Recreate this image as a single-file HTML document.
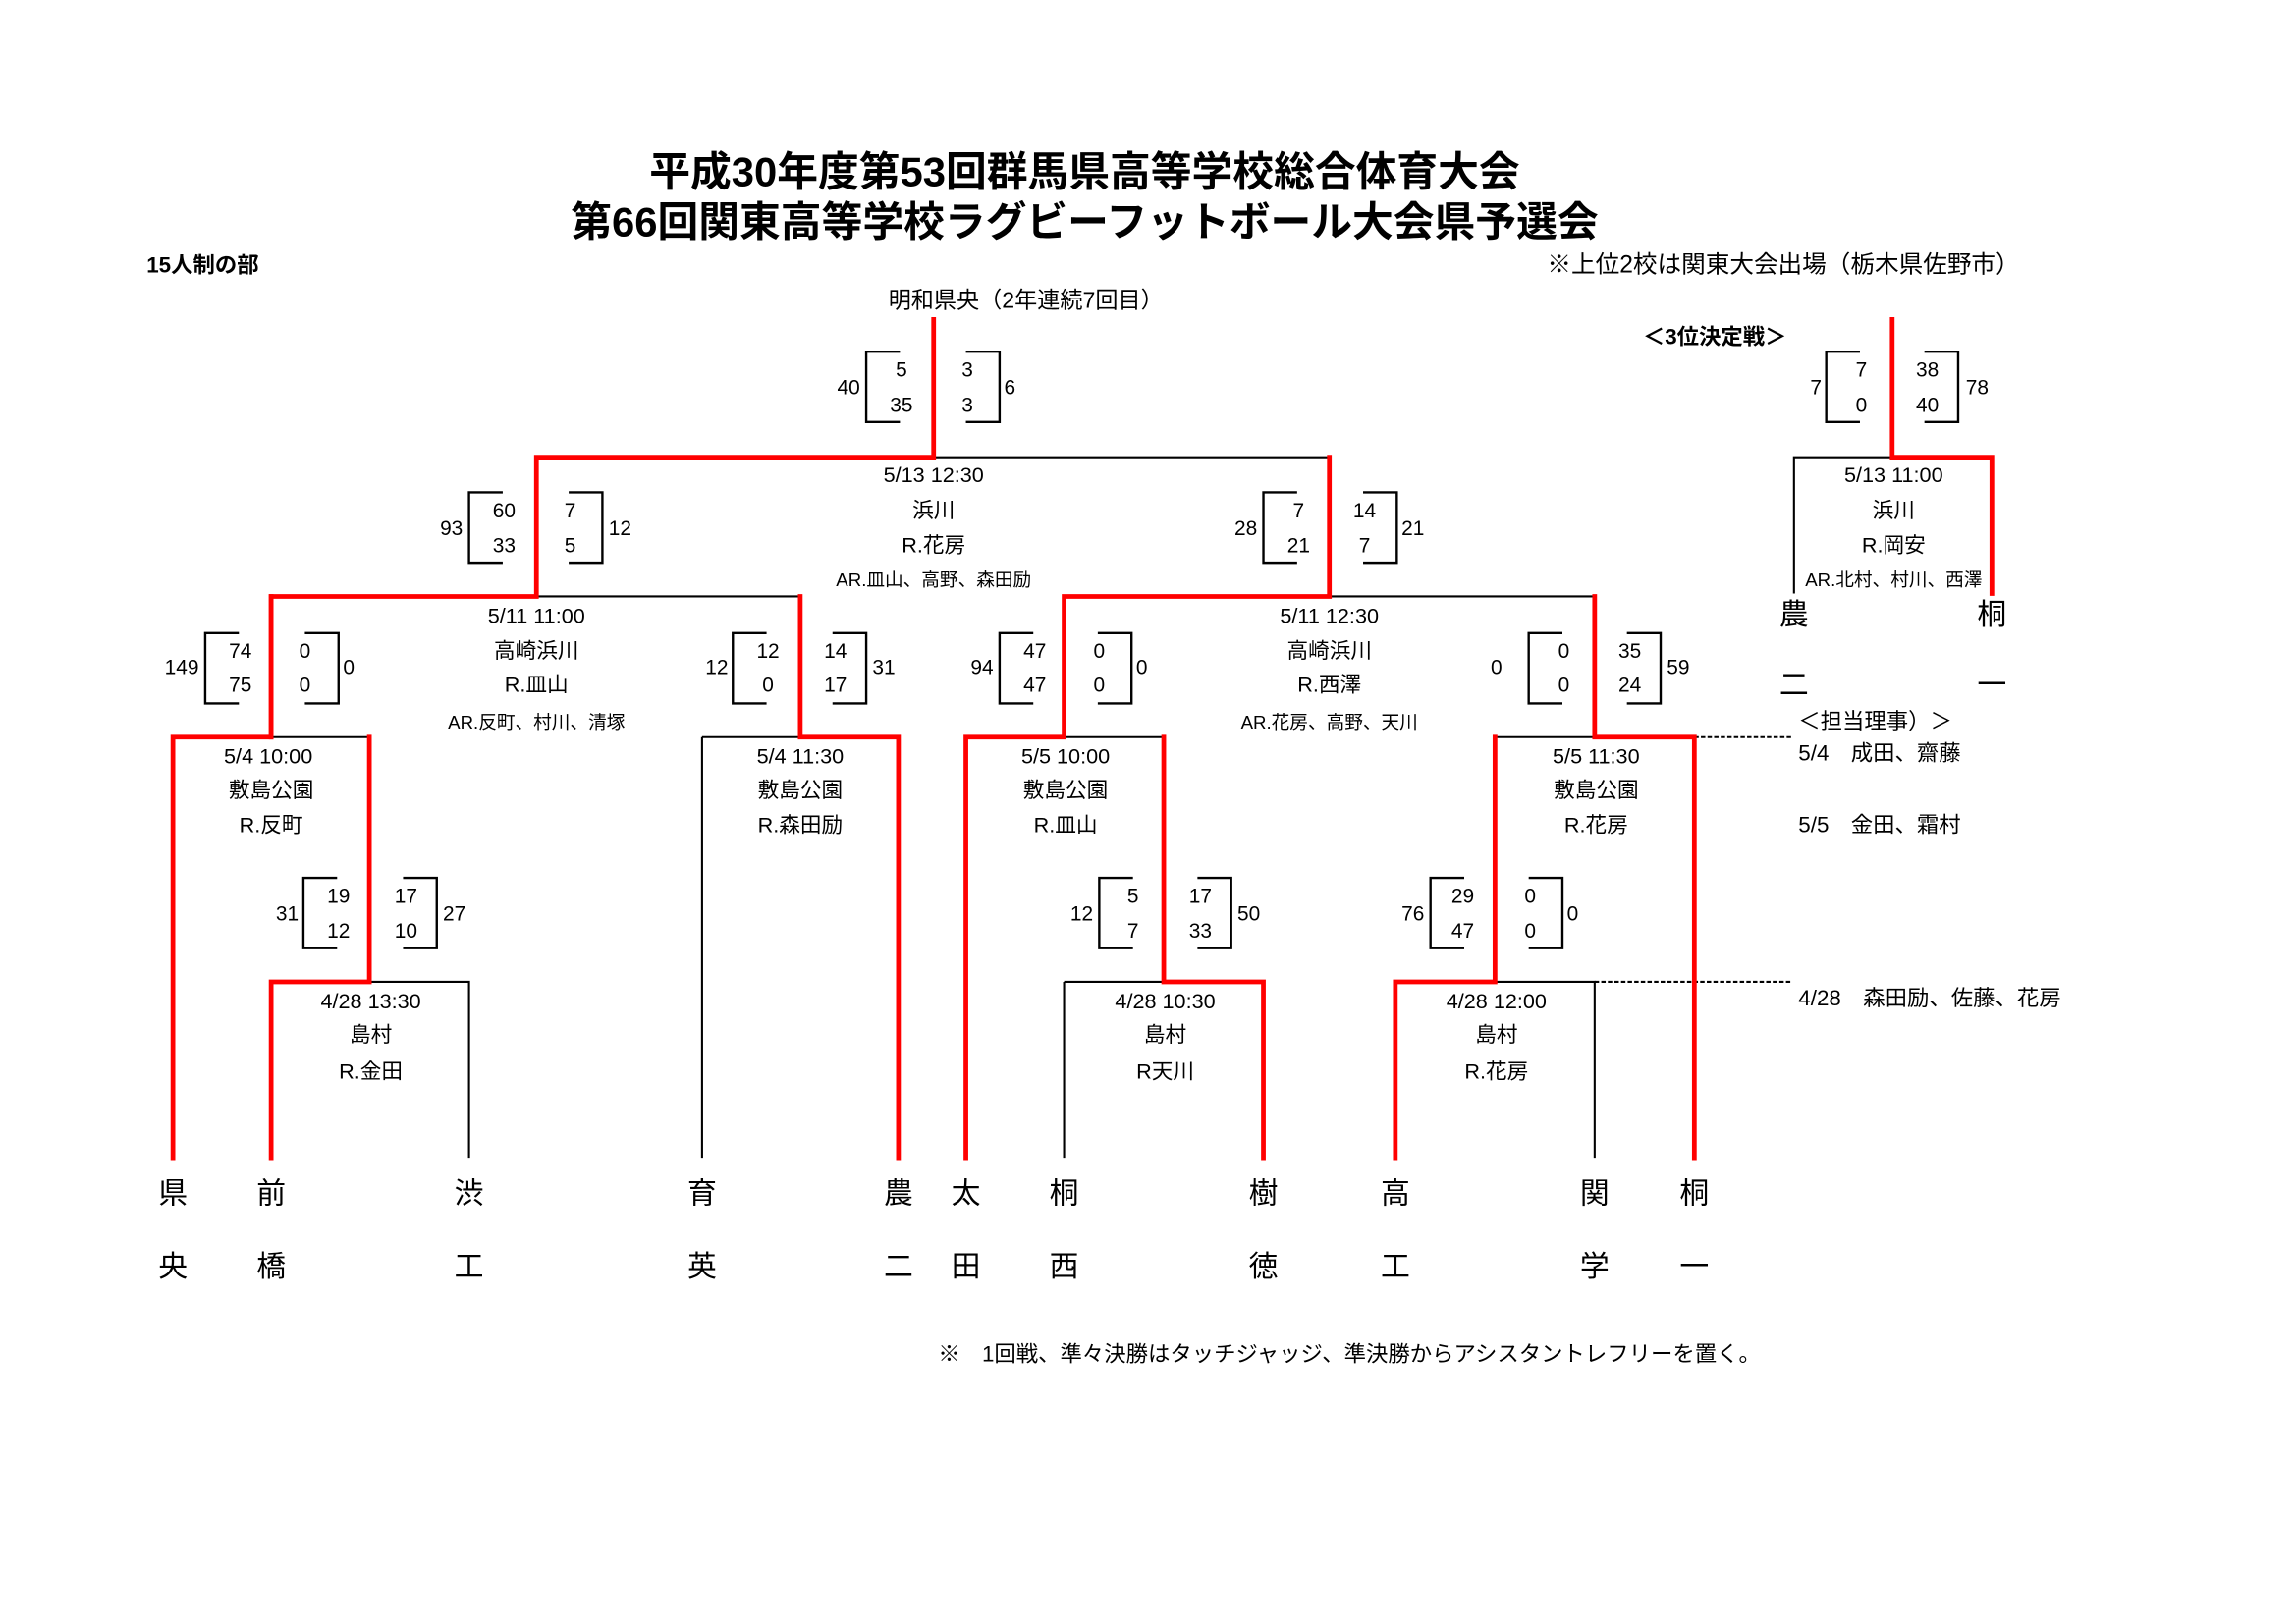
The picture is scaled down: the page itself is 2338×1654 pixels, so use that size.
<!DOCTYPE html>
<html><head><meta charset="utf-8"><style>
html,body{margin:0;padding:0;background:#fff;}
svg{display:block;}
text{font-family:"Liberation Sans","Noto Sans CJK JP",sans-serif;fill:#000;}
.t{font-size:14.5px;text-anchor:middle;}
.s{font-size:12.5px;text-anchor:middle;}
.n{font-size:14px;text-anchor:middle;}
.tm{font-size:20px;text-anchor:middle;}
.r{stroke:#f00;stroke-width:3.2;fill:none;stroke-linecap:square;}
.k{stroke:#000;stroke-width:1.4;fill:none;}
.b{stroke:#000;stroke-width:1.6;fill:none;}
</style></head><body>
<svg width="2338" height="1654" viewBox="0 0 1566.5 1108.2" xmlns="http://www.w3.org/2000/svg">
<rect width="1566.5" height="1108.2" fill="#fff"/>
<!-- titles -->
<text x="740" y="127" style="font-size:28px;font-weight:bold;text-anchor:middle">平成30年度第53回群馬県高等学校総合体育大会</text>
<text x="740" y="161" style="font-size:28px;font-weight:bold;text-anchor:middle">第66回関東高等学校ラグビーフットボール大会県予選会</text>
<text x="100" y="186" style="font-size:15px;font-weight:bold">15人制の部</text>
<text x="1378" y="186" style="font-size:16.5px;text-anchor:end">※上位2校は関東大会出場（栃木県佐野市）</text>
<text x="700" y="210" style="font-size:15.5px;text-anchor:middle">明和県央（2年連続7回目）</text>
<text x="1170" y="235" style="font-size:15px;font-weight:bold;text-anchor:middle">＜3位決定戦＞</text>

<!-- black lines -->
<g class="k">
<path d="M637 312H907"/>
<path d="M366 407H546"/>
<path d="M907 407H1088"/>
<path d="M185 503H252"/>
<path d="M479 503H546 M479 503V790"/>
<path d="M726 503H794"/>
<path d="M1020 503H1088"/>
<path d="M252 670H320V790"/>
<path d="M726 670H794 M726 670V790"/>
<path d="M1020 670H1088V790"/>
<path d="M1291 312H1224V405"/>
<path d="M1156 503H1222 M1088 670H1222" stroke-dasharray="3,1.5"/>
</g>
<!-- red lines -->
<g class="r">
<path d="M637 218V312H366V407H185V503H118V790"/>
<path d="M185 407V503"/>
<path d="M546 407V503H613V790"/>
<path d="M252 503V670H185V790"/>
<path d="M907 312V407H726V503H659V790"/>
<path d="M1088 407V503H1156V790"/>
<path d="M794 503V670H862V790"/>
<path d="M1020 503V670H952V790"/>
<path d="M1291 218V312H1359V405"/>
</g>

<!-- score boxes -->
<g class="b">
<path d="M614 240H591V288H614 M659 240H682V288H659"/>
<path d="M343 336H320V384H343 M388 336H411V384H388"/>
<path d="M885 336H862V384H885 M930 336H953V384H930"/>
<path d="M163 432H140V480H163 M208 432H231V480H208"/>
<path d="M523 432H500V480H523 M568 432H591V480H568"/>
<path d="M705 432H682V480H705 M749 432H772V480H749"/>
<path d="M1066 432H1043V480H1066 M1110 432H1133V480H1110"/>
<path d="M230 599H207V647H230 M275 599H298V647H275"/>
<path d="M773 599H750V647H773 M817 599H840V647H817"/>
<path d="M999 599H976V647H999 M1043 599H1066V647H1043"/>
<path d="M1269 240H1246V288H1269 M1313 240H1336V288H1313"/>
</g>
<g class="n">
<text x="615" y="257">5</text><text x="615" y="281">35</text><text x="579" y="269">40</text>
<text x="660" y="257">3</text><text x="660" y="281">3</text><text x="689" y="269">6</text>
<text x="344" y="353">60</text><text x="344" y="377">33</text><text x="308" y="365">93</text>
<text x="389" y="353">7</text><text x="389" y="377">5</text><text x="423" y="365">12</text>
<text x="886" y="353">7</text><text x="886" y="377">21</text><text x="850" y="365">28</text>
<text x="931" y="353">14</text><text x="931" y="377">7</text><text x="964" y="365">21</text>
<text x="164" y="449">74</text><text x="164" y="472">75</text><text x="124" y="460">149</text>
<text x="208" y="449">0</text><text x="208" y="472">0</text><text x="238" y="460">0</text>
<text x="524" y="449">12</text><text x="524" y="472">0</text><text x="489" y="460">12</text>
<text x="570" y="449">14</text><text x="570" y="472">17</text><text x="603" y="460">31</text>
<text x="706" y="449">47</text><text x="706" y="472">47</text><text x="670" y="460">94</text>
<text x="750" y="449">0</text><text x="750" y="472">0</text><text x="779" y="460">0</text>
<text x="1067" y="449">0</text><text x="1067" y="472">0</text><text x="1021" y="460">0</text>
<text x="1112" y="449">35</text><text x="1112" y="472">24</text><text x="1145" y="460">59</text>
<text x="231" y="616">19</text><text x="231" y="640">12</text><text x="196" y="628">31</text>
<text x="277" y="616">17</text><text x="277" y="640">10</text><text x="310" y="628">27</text>
<text x="773" y="616">5</text><text x="773" y="640">7</text><text x="738" y="628">12</text>
<text x="819" y="616">17</text><text x="819" y="640">33</text><text x="852" y="628">50</text>
<text x="998" y="616">29</text><text x="998" y="640">47</text><text x="964" y="628">76</text>
<text x="1044" y="616">0</text><text x="1044" y="640">0</text><text x="1073" y="628">0</text>
<text x="1270" y="257">7</text><text x="1270" y="281">0</text><text x="1239" y="269">7</text>
<text x="1315" y="257">38</text><text x="1315" y="281">40</text><text x="1349" y="269">78</text>
</g>

<!-- match info -->
<g class="t">
<text x="637" y="329">5/13 12:30</text><text x="637" y="353">浜川</text><text x="637" y="377">R.花房</text>
<text x="366" y="425">5/11 11:00</text><text x="366" y="449">高崎浜川</text><text x="366" y="472">R.皿山</text>
<text x="907" y="425">5/11 12:30</text><text x="907" y="449">高崎浜川</text><text x="907" y="472">R.西澤</text>
<text x="183" y="521">5/4 10:00</text><text x="185" y="544">敷島公園</text><text x="185" y="568">R.反町</text>
<text x="546" y="521">5/4 11:30</text><text x="546" y="544">敷島公園</text><text x="546" y="568">R.森田励</text>
<text x="727" y="521">5/5 10:00</text><text x="727" y="544">敷島公園</text><text x="727" y="568">R.皿山</text>
<text x="1089" y="521">5/5 11:30</text><text x="1089" y="544">敷島公園</text><text x="1089" y="568">R.花房</text>
<text x="253" y="688">4/28 13:30</text><text x="253" y="711">島村</text><text x="253" y="736">R.金田</text>
<text x="795" y="688">4/28 10:30</text><text x="795" y="711">島村</text><text x="795" y="736">R天川</text>
<text x="1021" y="688">4/28 12:00</text><text x="1021" y="711">島村</text><text x="1021" y="736">R.花房</text>
<text x="1292" y="329">5/13 11:00</text><text x="1292" y="353">浜川</text><text x="1292" y="377">R.岡安</text>
</g>
<g class="s">
<text x="637" y="400">AR.皿山、高野、森田励</text>
<text x="366" y="497">AR.反町、村川、清塚</text>
<text x="907" y="497">AR.花房、高野、天川</text>
<text x="1292" y="400">AR.北村、村川、西澤</text>
</g>

<!-- teams -->
<g class="tm">
<text x="118" y="821">県</text><text x="118" y="871">央</text>
<text x="185" y="821">前</text><text x="185" y="871">橋</text>
<text x="320" y="821">渋</text><text x="320" y="871">工</text>
<text x="479" y="821">育</text><text x="479" y="871">英</text>
<text x="613" y="821">農</text><text x="613" y="871">二</text>
<text x="659" y="821">太</text><text x="659" y="871">田</text>
<text x="726" y="821">桐</text><text x="726" y="871">西</text>
<text x="862" y="821">樹</text><text x="862" y="871">徳</text>
<text x="952" y="821">高</text><text x="952" y="871">工</text>
<text x="1088" y="821">関</text><text x="1088" y="871">学</text>
<text x="1156" y="821">桐</text><text x="1156" y="871">一</text>
<text x="1224" y="426">農</text><text x="1224" y="474">二</text>
<text x="1359" y="426">桐</text><text x="1359" y="474">一</text>
</g>

<g style="font-size:15px">
<text x="1227" y="497">＜担当理事）＞</text>
<text x="1227" y="519">5/4　成田、齋藤</text>
<text x="1227" y="568">5/5　金田、霜村</text>
<text x="1227" y="686">4/28　森田励、佐藤、花房</text>
<text x="640" y="929">※　1回戦、準々決勝はタッチジャッジ、準決勝からアシスタントレフリーを置く。</text>
</g>
</svg>
</body></html>
